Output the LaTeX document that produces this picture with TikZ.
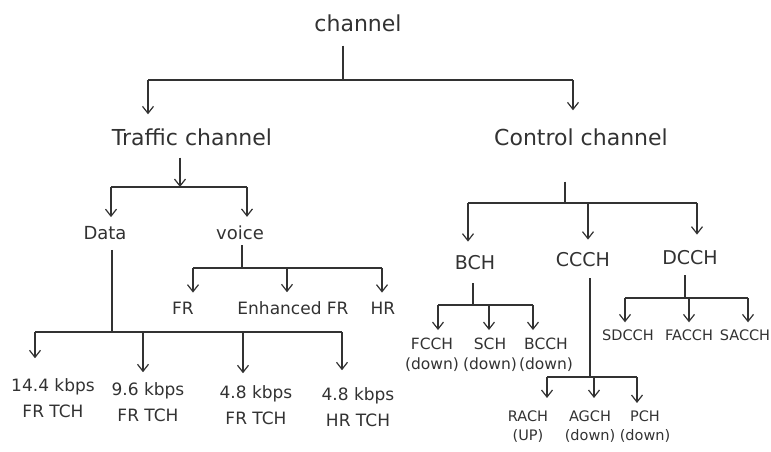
\documentclass[tikz,border=0pt]{standalone}
\usepackage{fontspec}
\setmainfont{DejaVu Sans}
\usetikzlibrary{arrows.meta}
\definecolor{ink}{RGB}{50,50,50}

\begin{document}
\begin{tikzpicture}[
  x=1pt, y=-1pt,
  lbl/.style={inner sep=1pt, align=center, text=ink},
  hdtxt/.style={lbl, font=\fontsize{22}{26}\selectfont},
  grptxt/.style={lbl, font=\fontsize{18}{22}\selectfont},
  leaftxt/.style={lbl, font=\fontsize{17}{26}\selectfont},
  subtxt/.style={lbl, font=\fontsize{15.5}{20}\selectfont},
  ln/.style={draw=ink, line width=1.2pt},
  arr/.style={ln, -{Straight Barb[length=7pt,width=11pt]}}
]
\useasboundingbox (0,0) rectangle (771,451);

% labels
\node[hdtxt] (ch) at (358,23)  {channel};
\node[hdtxt] (tc) at (192,137) {Traffic channel};
\node[hdtxt] (cc) at (581,137) {Control channel};

\node[grptxt] (data)  at (105,233) {Data};
\node[grptxt] (voice) at (240,233) {voice};
\node[leaftxt] (fr)  at (183,308) {FR};
\node[leaftxt] (efr) at (293,308) {Enhanced FR};
\node[leaftxt] (hr)  at (383,308) {HR};
\node[leaftxt] (r1) at (53,398)  {14.4 kbps\\FR TCH};
\node[leaftxt] (r2) at (148,402) {9.6 kbps\\FR TCH};
\node[leaftxt] (r3) at (256,405) {4.8 kbps\\FR TCH};
\node[leaftxt] (r4) at (358,407) {4.8 kbps\\HR TCH};

\node[grptxt, font=\fontsize{19}{22}\selectfont] (bch)  at (475,263) {BCH};
\node[grptxt, font=\fontsize{19}{22}\selectfont] (ccch) at (583,260) {CCCH};
\node[grptxt, font=\fontsize{19}{22}\selectfont] (dcch) at (690,258) {DCCH};
\node[subtxt] (fcch) at (432,355) {FCCH\\(down)};
\node[subtxt] (sch)  at (490,355) {SCH\\(down)};
\node[subtxt] (bcch) at (546,355) {BCCH\\(down)};
\node[subtxt, font=\fontsize{14.5}{19}\selectfont] (rach) at (528,427) {RACH\\(UP)};
\node[subtxt, font=\fontsize{14.5}{19}\selectfont] (agch) at (590,427) {AGCH\\(down)};
\node[subtxt, font=\fontsize{14.5}{19}\selectfont] (pch)  at (645,427) {PCH\\(down)};
\node[subtxt, font=\fontsize{14.5}{19}\selectfont] (sdcch) at (628,335) {SDCCH};
\node[subtxt, font=\fontsize{14.5}{19}\selectfont] (facch) at (689,335) {FACCH};
\node[subtxt, font=\fontsize{14.5}{19}\selectfont] (sacch) at (745,335) {SACCH};

% junctions
\coordinate (j0) at (343,80);
\coordinate (j0a) at (148,80);  \coordinate (j0b) at (573,80);
\coordinate (jt) at (180,187);
\coordinate (jta) at (111,187); \coordinate (jtb) at (247,187);
\coordinate (jv) at (242,268);
\coordinate (jva) at (193,268); \coordinate (jvb) at (287,268); \coordinate (jvc) at (382,268);
\coordinate (jd) at (112,332);
\coordinate (jda) at (35,332);  \coordinate (jdb) at (143,332);
\coordinate (jdc) at (243,332); \coordinate (jdd) at (342,332);
\coordinate (jc) at (565,203);
\coordinate (jca) at (468,203); \coordinate (jcb) at (588,203); \coordinate (jcc) at (697,203);
\coordinate (jb) at (473,305);
\coordinate (jba) at (438,305); \coordinate (jbb) at (489,305); \coordinate (jbc) at (533,305);
\coordinate (jm) at (590,377);
\coordinate (jma) at (547,377); \coordinate (jmb) at (594,377); \coordinate (jmc) at (637,377);
\coordinate (jx) at (685,298);
\coordinate (jxa) at (625,298); \coordinate (jxb) at (689,298); \coordinate (jxc) at (748,298);

% channel
\draw[ln, shorten <=13pt] (j0 |- ch.south) -- (j0);
\draw[ln] (j0a) -- (j0b);
\draw[arr, shorten >=13pt] (j0a) -- (j0a |- tc.north);
\draw[arr, shorten >=17pt] (j0b) -- (j0b |- cc.north);

% traffic channel
\draw[arr, shorten <=11pt] (jt |- tc.south) -- (jt);
\draw[ln] (jta) -- (jtb);
\draw[arr, shorten >=8pt] (jta) -- (jta |- data.north);
\draw[arr, shorten >=8pt] (jtb) -- (jtb |- voice.north);

\draw[ln, shorten <=4pt] (jv |- voice.south) -- (jv);
\draw[ln] (jva) -- (jvc);
\draw[arr, shorten >=8pt] (jva) -- (jva |- fr.north);
\draw[arr, shorten >=8pt] (jvb) -- (jvb |- efr.north);
\draw[arr, shorten >=8pt] (jvc) -- (jvc |- hr.north);

\draw[ln, shorten <=9pt] (jd |- data.south) -- (jd);
\draw[ln] (jda) -- (jdd);
\draw[arr, shorten >=19pt] (jda) -- (jda |- r1.north);
\draw[arr, shorten >=9pt]  (jdb) -- (jdb |- r2.north);
\draw[arr, shorten >=11pt] (jdc) -- (jdc |- r3.north);
\draw[arr, shorten >=16pt] (jdd) -- (jdd |- r4.north);

% control channel
\draw[ln, shorten <=35pt] (jc |- cc.south) -- (jc);
\draw[ln] (jca) -- (jcc);
\draw[arr, shorten >=13pt] (jca) -- (jca |- bch.north);
\draw[arr, shorten >=12pt] (jcb) -- (jcb |- ccch.north);
\draw[arr, shorten >=15pt] (jcc) -- (jcc |- dcch.north);

\draw[ln, shorten <=12pt] (jb |- bch.south) -- (jb);
\draw[ln] (jba) -- (jbc);
\draw[arr, shorten >=7pt] (jba) -- (jba |- fcch.north);
\draw[arr, shorten >=7pt] (jbb) -- (jbb |- sch.north);
\draw[arr, shorten >=7pt] (jbc) -- (jbc |- bcch.north);

\draw[ln, shorten <=10pt] (jm |- ccch.south) -- (jm);
\draw[ln] (jma) -- (jmc);
\draw[arr, shorten >=12pt] (jma) -- (jma |- rach.north);
\draw[arr, shorten >=12pt] (jmb) -- (jmb |- agch.north);
\draw[arr, shorten >=7pt]  (jmc) -- (jmc |- pch.north);

\draw[ln, shorten <=9pt] (jx |- dcch.south) -- (jx);
\draw[ln] (jxa) -- (jxc);
\draw[arr, shorten >=6pt] (jxa) -- (jxa |- sdcch.north);
\draw[arr, shorten >=6pt] (jxb) -- (jxb |- facch.north);
\draw[arr, shorten >=6pt] (jxc) -- (jxc |- sacch.north);
\end{tikzpicture}
\end{document}
